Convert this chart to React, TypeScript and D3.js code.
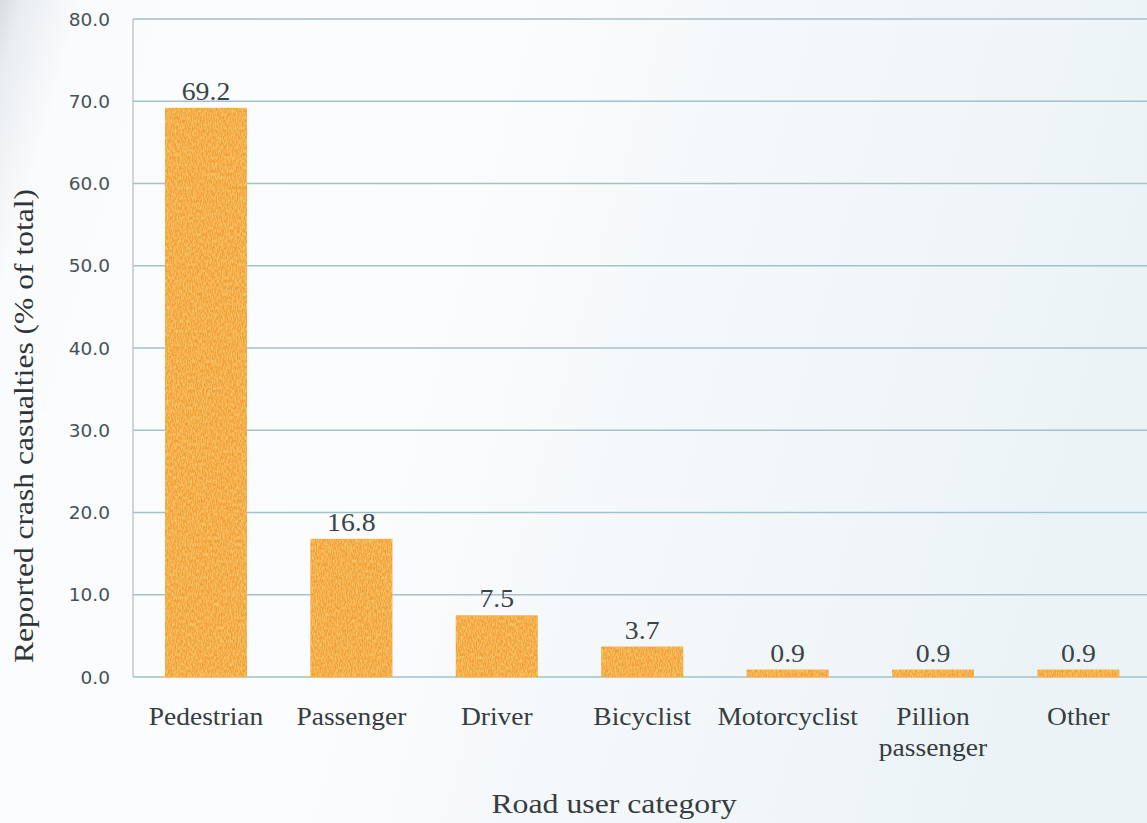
import React from "react";
import * as d3 from "d3";

const categories: string[][] = [
  ["Pedestrian"],
  ["Passenger"],
  ["Driver"],
  ["Bicyclist"],
  ["Motorcyclist"],
  ["Pillion", "passenger"],
  ["Other"],
];
const shares: number[] = [69.2, 16.8, 7.5, 3.7, 0.9, 0.9, 0.9];
const yTicks: number[] = [0, 10, 20, 30, 40, 50, 60, 70, 80];
const yTitle = "Reported crash casualties (% of total)";
const xTitle = "Road user category";

const W = 1147;
const H = 823;
const left = 133;
const top = 19;
const bottom = 677;

export default function App() {
  const keys = categories.map((c) => c.join(" "));
  const x = d3
    .scaleBand<string>()
    .domain(keys)
    .range([left, 1151.4])
    .paddingInner(0.436)
    .paddingOuter(0.22);
  const y = d3.scaleLinear().domain([0, 80]).range([bottom, top]);
  const fmt = d3.format(".1f");

  const serif = "'Liberation Serif', 'DejaVu Serif', serif";
  const sans = "'DejaVu Sans', 'Liberation Sans', sans-serif";
  const cx = (i: number) => (x(keys[i]) as number) + x.bandwidth() / 2;

  return (
    <svg
      width={W}
      height={H}
      style={{ position: "absolute", left: 0, top: 0, display: "block" }}
    >
      <defs>
        <linearGradient id="paper" x1="0" y1="0" x2="1" y2="0.2">
          <stop offset="0" stopColor="#d6dce1" />
          <stop offset="0.02" stopColor="#eaeef1" />
          <stop offset="0.07" stopColor="#fafbfc" />
          <stop offset="0.4" stopColor="#fbfcfd" />
          <stop offset="1" stopColor="#ecf3f7" />
        </linearGradient>
        <filter id="grain" x="0" y="0" width="1" height="1">
          <feTurbulence type="fractalNoise" baseFrequency="0.8 0.3" numOctaves="2" seed="3" result="n" />
          <feColorMatrix
            in="n"
            type="matrix"
            values="0 0 0 0 0.99  0 0 0 0 0.8  0 0 0 0 0.25  0 0 0 1.1 -0.35"
            result="c"
          />
          <feComposite in="c" in2="SourceGraphic" operator="in" result="t" />
          <feMerge>
            <feMergeNode in="SourceGraphic" />
            <feMergeNode in="t" />
          </feMerge>
        </filter>
      </defs>
      <rect x={0} y={0} width={W} height={H} fill="url(#paper)" />

      {/* horizontal gridlines */}
      {yTicks.map((t) => (
        <line
          key={"g" + t}
          x1={left}
          x2={W}
          y1={y(t)}
          y2={y(t)}
          stroke="#a3c1c8"
          strokeWidth={1.6}
        />
      ))}
      {/* value axis line */}
      <line x1={left} x2={left} y1={y(80)} y2={y(0)} stroke="#b9c6cc" strokeWidth={1.4} />

      {/* tick labels */}
      {yTicks.map((t) => (
        <text
          key={"t" + t}
          x={110}
          y={y(t)}
          dy="0.36em"
          textAnchor="end"
          fontFamily={sans}
          fontSize={18.5}
          fill="#465259"
        >
          {fmt(t)}
        </text>
      ))}

      {/* bars */}
      {shares.map((v, i) => (
        <rect
          key={"b" + i}
          x={x(keys[i])}
          y={y(v)}
          width={x.bandwidth()}
          height={y(0) - y(v)}
          fill="#f29f35"
          filter="url(#grain)"
        />
      ))}

      {/* value labels */}
      {shares.map((v, i) => (
        <text
          key={"v" + i}
          transform={`translate(${cx(i)}, ${y(v) - 8}) scale(1.11, 1)`}
          textAnchor="middle"
          fontFamily={serif}
          fontSize={25}
          fill="#3a4448"
        >
          {fmt(v)}
        </text>
      ))}

      {/* category labels */}
      {categories.map((lines, i) => (
        <g key={"c" + i} transform={`translate(${cx(i)}, 725) scale(1.1, 1)`}>
          <text textAnchor="middle" fontFamily={serif} fontSize={25} fill="#363d40">
            {lines.map((l, j) => (
              <tspan key={j} x={0} dy={j === 0 ? 0 : 31}>
                {l}
              </tspan>
            ))}
          </text>
        </g>
      ))}

      {/* axis titles */}
      <text
        transform={`translate(33, 426) rotate(-90) scale(1.127, 1)`}
        textAnchor="middle"
        fontFamily={serif}
        fontSize={28}
        fill="#2f3538"
      >
        {yTitle}
      </text>
      <text
        transform={`translate(614, 813) scale(1.135, 1)`}
        textAnchor="middle"
        fontFamily={serif}
        fontSize={28}
        fill="#363d40"
      >
        {xTitle}
      </text>
    </svg>
  );
}
